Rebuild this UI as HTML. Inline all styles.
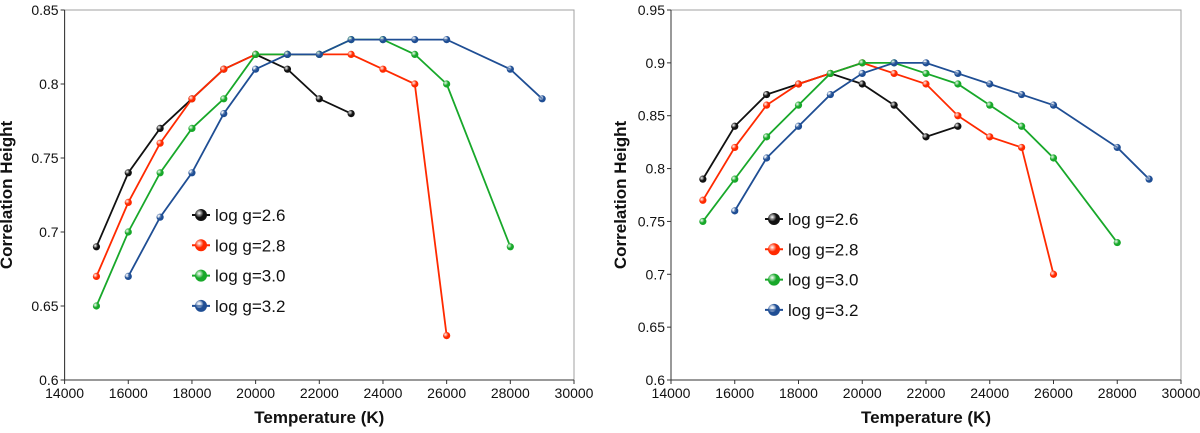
<!DOCTYPE html>
<html><head><meta charset="utf-8"><style>
html,body{margin:0;padding:0;background:#fff;}
svg{display:block;font-family:"Liberation Sans",sans-serif;}
</style></head><body>
<svg id="c" width="1200" height="433" viewBox="0 0 1200 433"></svg>
<script>
const temps=[15000,16000,17000,18000,19000,20000,21000,22000,23000,24000,25000,26000,28000,29000];
const seriesNames=["log g=2.6","log g=2.8","log g=3.0","log g=3.2"];
const seriesColors=["#111111","#ff2a00","#18a82a","#1f4e94"];
// left panel values (null = no point)
const leftG26=[0.69,0.74,0.77,0.79,0.81,0.82,0.81,0.79,0.78,null,null,null,null,null];
const leftG28=[0.67,0.72,0.76,0.79,0.81,0.82,0.82,0.82,0.82,0.81,0.80,0.63,null,null];
const leftG30=[0.65,0.70,0.74,0.77,0.79,0.82,0.82,0.82,0.83,0.83,0.82,0.80,0.69,null];
const leftG32=[null,0.67,0.71,0.74,0.78,0.81,0.82,0.82,0.83,0.83,0.83,0.83,0.81,0.79];
// right panel values
const rightG26=[0.79,0.84,0.87,0.88,0.89,0.88,0.86,0.83,0.84,null,null,null,null,null];
const rightG28=[0.77,0.82,0.86,0.88,0.89,0.90,0.89,0.88,0.85,0.83,0.82,0.70,null,null];
const rightG30=[0.75,0.79,0.83,0.86,0.89,0.90,0.90,0.89,0.88,0.86,0.84,0.81,0.73,null];
const rightG32=[null,0.76,0.81,0.84,0.87,0.89,0.90,0.90,0.89,0.88,0.87,0.86,0.82,0.79];
const xTicks=[14000,16000,18000,20000,22000,24000,26000,28000,30000];
const leftYTicks=[0.6,0.65,0.7,0.75,0.8,0.85];
const rightYTicks=[0.6,0.65,0.7,0.75,0.8,0.85,0.9,0.95];

const NS="http://www.w3.org/2000/svg";
const svg=document.getElementById('c');
function el(t,a,p){const e=document.createElementNS(NS,t);for(const k in a)e.setAttribute(k,a[k]);(p||svg).appendChild(e);return e;}
const defs=el('defs',{});
seriesColors.forEach((c,i)=>{
  const g=el('radialGradient',{id:'sph'+i,cx:'35%',cy:'35%',r:'65%'},defs);
  el('stop',{offset:'0%','stop-color':'#fff','stop-opacity':i==3?'0.2':'0.9'},g);
  el('stop',{offset:'55%','stop-color':c},g);
  el('stop',{offset:'100%','stop-color':c},g);
});

function panel(name,x0,x1,y0,y1,yMin,yMax,yTicks,data,legX,legY,yLabelX){
  const g=el('g',{});
  
  
  const sx=v=>x0+(v-14000)/(30000-14000)*(x1-x0);
  const sy=v=>y1-(v-yMin)/(yMax-yMin)*(y1-y0);
  const frame=el('rect',{x:x0,y:y0,width:x1-x0,height:y1-y0,fill:'none',stroke:'#a0a0a0','stroke-width':1},g);
  
  
  el('line',{x1:x0,y1:y0,x2:x0,y2:y1,stroke:'#333','stroke-width':1},g);
  el('line',{x1:x0,y1:y1,x2:x1,y2:y1,stroke:'#333','stroke-width':1},g);
  xTicks.forEach(t=>{
    el('line',{x1:sx(t),y1:y1,x2:sx(t),y2:y1+4,stroke:'#333'},g);
    const tx=el('text',{x:sx(t),y:y1+18,'font-size':14,'text-anchor':'middle',fill:'#111'},g);
    tx.textContent=t;
    
    
  });
  yTicks.forEach(t=>{
    el('line',{x1:x0-4,y1:sy(t),x2:x0,y2:sy(t),stroke:'#333'},g);
    const tx=el('text',{x:x0-6,y:sy(t)+5,'font-size':14,'text-anchor':'end',fill:'#111'},g);
    tx.textContent=String(t);
    
    
  });
  const xt=el('text',{x:(x0+x1)/2,y:423,'font-size':17,'font-weight':'bold','text-anchor':'middle',fill:'#111'},g);
  xt.textContent='Temperature (K)';
  
  
  const yt=el('text',{x:yLabelX,y:(y0+y1)/2,'font-size':17,'font-weight':'bold','text-anchor':'middle',fill:'#111',transform:`rotate(-90 ${yLabelX} ${(y0+y1)/2})`},g);
  yt.textContent='Correlation Height';
  
  
  data.forEach((vals,i)=>{
    const pts=[];
    vals.forEach((v,j)=>{if(v!==null)pts.push([sx(temps[j]),sy(v)]);});
    const pl=el('polyline',{points:pts.map(p=>p.join(',')).join(' '),fill:'none',stroke:seriesColors[i],'stroke-width':1.8},g);
    
    
    pts.forEach(p=>{
      const c=el('circle',{cx:p[0],cy:p[1],r:3.6,fill:'url(#sph'+i+')'},g);
      
      
    });
  });
  seriesNames.forEach((n,i)=>{
    const ly=legY+i*30.3;
    const lg=el('g',{},g);
    
    
    el('line',{x1:legX-9,y1:ly,x2:legX+9,y2:ly,stroke:seriesColors[i],'stroke-width':2},lg);
    el('circle',{cx:legX,cy:ly,r:6,fill:'url(#sph'+i+')'},lg);
    const t=el('text',{x:legX+14,y:ly+6,'font-size':17,fill:'#111'},lg);
    t.textContent=n;
  });
}
panel('left-panel',64.6,574,10,380,0.6,0.85,leftYTicks,[leftG26,leftG28,leftG30,leftG32],201,215,12);
panel('right-panel',671,1181,10,380,0.6,0.95,rightYTicks,[rightG26,rightG28,rightG30,rightG32],774,219,626);
</script>
</body></html>
